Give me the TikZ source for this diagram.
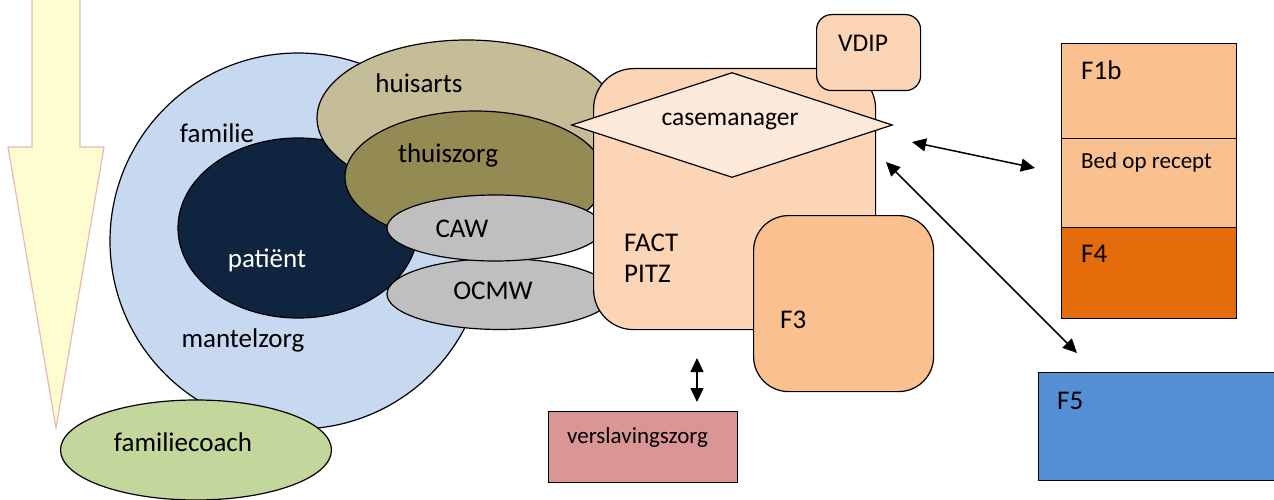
\documentclass[tikz,border=0pt]{standalone}
\usepackage{fontspec}
\setmainfont{Carlito}
\usetikzlibrary{shapes.geometric,arrows.meta}

\definecolor{famblue}{HTML}{C6D9F1}
\definecolor{patnavy}{HTML}{0F243E}
\definecolor{huiskhaki}{HTML}{C4BD97}
\definecolor{thuisolive}{HTML}{948A54}
\definecolor{cawgrey}{HTML}{BFBFBF}
\definecolor{factpeach}{HTML}{FBD5B5}
\definecolor{casepale}{HTML}{FDE9D9}
\definecolor{forange}{HTML}{FAC090}
\definecolor{fdark}{HTML}{E46C0A}
\definecolor{fblue}{HTML}{558ED5}
\definecolor{verspink}{HTML}{D99694}
\definecolor{coachgreen}{HTML}{C3D69B}
\definecolor{arrowyel}{HTML}{FFFDCF}
\definecolor{arrowpink}{HTML}{E6B9B8}

\begin{document}
\begin{tikzpicture}[x=1pt,y=-1pt,
  outl/.style={draw=black, line width=1.2pt},
  blob/.style={outl, ellipse, inner sep=0pt},
  box/.style={outl, rectangle, inner sep=0pt, anchor=north west},
  big/.style={font=\fontsize{27}{31}\selectfont, inner sep=0pt},
  mid/.style={font=\fontsize{25.5}{30}\selectfont, inner sep=0pt},
  small/.style={font=\fontsize{23}{27}\selectfont, inner sep=0pt},
  both/.style={{Triangle[length=14pt,width=13pt]}-{Triangle[length=14pt,width=13pt]}, line width=1.5pt}
]
\useasboundingbox (0,0) rectangle (1274,500);

% time arrow on the left
\filldraw[fill=arrowyel, draw=arrowpink, line width=1.2pt]
  (32,-5) -- (32,147) -- (8,147) -- (56,428) -- (104,147) -- (80,147) -- (80,-5) -- cycle;

% circles round the patient
\node[blob, fill=famblue, minimum width=376pt, minimum height=376pt] (familie) at (298,241) {};
\node[big] (famT) at (217,133) {familie};
\node[big] (mantelT) at (243,340) {mantelzorg};
\node[blob, fill=coachgreen, minimum width=271pt, minimum height=100pt] (coach) at (196,450) {};
\node[big] (coachT) at (183,442) {familiecoach};
\node[blob, fill=patnavy, minimum width=240pt, minimum height=180pt] (patient) at (298,228) {};
\node[big, text=white] (patT) at (267,260) {patiënt};

\node[blob, fill=huiskhaki, minimum width=300pt, minimum height=156pt] (huisarts) at (467,118) {};
\node[big] (huisT) at (419,83) {huisarts};
\node[blob, fill=thuisolive, minimum width=260pt, minimum height=132pt] (thuiszorg) at (475,177) {};
\node[big] (thuisT) at (448,155) {thuiszorg};
\node[blob, fill=cawgrey, minimum width=226pt, minimum height=71pt] (ocmw) at (500,294) {};
\node[big] (ocmwT) at (493,291) {OCMW};
\node[blob, fill=cawgrey, minimum width=216pt, minimum height=66pt] (caw) at (495,228) {};
\node[big] (cawT) at (462,229) {CAW};

% FACT team
\node[box, fill=factpeach, rounded corners=40pt, minimum width=282pt, minimum height=261pt] (fact) at (593,68) {};
\node[big, anchor=west] (factT) at (624,243) {FACT};
\node[big, anchor=west] (pitzT) at (624,274) {PITZ};
\node[box, fill=factpeach, rounded corners=15pt, minimum width=104pt, minimum height=76pt] (vdip) at (816,14) {};
\node[mid, anchor=west] (vdipT) at (838,43) {VDIP};
\node[outl, diamond, fill=casepale, aspect=3, inner sep=0pt, minimum width=321pt, minimum height=105pt] (case) at (732,125) {};
\node[mid] (caseT) at (730,121) {casemanager};
\node[box, fill=forange, rounded corners=35pt, minimum width=180pt, minimum height=176pt] (f3) at (753,215) {};
\node[big, anchor=west] (f3T) at (780,320) {F3};

\node[box, fill=verspink, minimum width=189pt, minimum height=71pt] (vers) at (548,411) {};
\node[small, anchor=west] (versT) at (567,437) {verslavingszorg};

% right column
\node[box, fill=forange, minimum width=175pt, minimum height=95pt] (f1b) at (1061,43) {};
\node[big, anchor=west] (f1bT) at (1081,70) {F1b};
\node[box, fill=forange, minimum width=175pt, minimum height=89pt] (bed) at (1061,138) {};
\node[small, anchor=west] (bedT) at (1081,162) {Bed op recept};
\node[box, fill=fdark, minimum width=175pt, minimum height=91pt] (f4) at (1061,227) {};
\node[big, anchor=west] (f4T) at (1081,254) {F4};
\node[box, fill=fblue, minimum width=240pt, minimum height=108pt] (f5) at (1038,372) {};
\node[big, anchor=west] (f5T) at (1057,401) {F5};

% links
\coordinate (l1a) at (912,142);
\coordinate (l1b) at (1035,168);
\coordinate (l2a) at (886,162);
\coordinate (l2b) at (1077,353);
\coordinate (l3a) at (697,358);
\coordinate (l3b) at (697,402);
\draw[both] (l1a) -- (l1b);
\draw[both] (l2a) -- (l2b);
\draw[both] (l3a) -- (l3b);
\end{tikzpicture}
\end{document}
